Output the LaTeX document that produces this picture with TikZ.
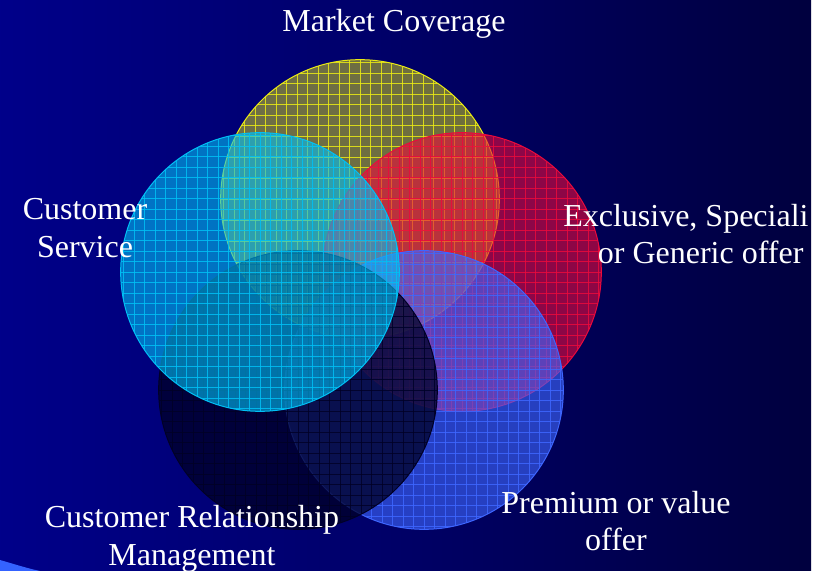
\documentclass[tikz,border=0pt]{standalone}
\usepackage{fontspec}
\setmainfont{Liberation Serif}
\usepackage{tikz}

\definecolor{bgleft}{RGB}{0,0,172}
\definecolor{bgmid}{RGB}{0,0,110}
\definecolor{bgright}{RGB}{0,0,48}
\definecolor{bgdark}{RGB}{0,0,20}
\definecolor{wedgeblue}{RGB}{52,98,255}
\definecolor{ylw}{RGB}{235,235,20}
\definecolor{crim}{RGB}{235,10,60}
\definecolor{royal}{RGB}{62,102,255}
\definecolor{navy}{RGB}{0,0,38}
\definecolor{aqua}{RGB}{0,192,245}

\pgfdeclarehorizontalshading{slidebg}{100bp}{color(0bp)=(bgleft); color(45bp)=(bgmid); color(84bp)=(bgright); color(95bp)=(bgdark); color(100bp)=(black)}

\tikzset{
  bubble/.style 2 args={circle, minimum size=209pt, inner sep=0pt,
    draw=#1, line width=0.75pt, fill=#1, fill opacity=#2,
    path picture={
      \foreach \k in {-14,...,14}{
        \draw[#1, draw opacity=0.85, line width=0.6pt, shift={(path picture bounding box.center)}]
          (\k*10.5,-150) -- (\k*10.5,150) (-150,\k*10.5) -- (150,\k*10.5);
      }
    }},
  lbl/.style={text=white, align=center, inner sep=0pt,
    font=\fontsize{24}{28}\selectfont}
}

\begin{document}
\begin{tikzpicture}[x=0.75pt,y=-0.75pt]
\useasboundingbox (0,0) rectangle (829,571);

% slide background
\fill[white] (811,0) rectangle (829,571);
\shade[shading=slidebg] (0,0) rectangle (811,571);
\fill[wedgeblue] (0,560) .. controls (14,564) and (26,568) .. (40,571) -- (0,571) -- cycle;

% the five circles, back to front
\node[bubble={ylw}{0.47}]  (cover)   at (360,199) {};
\node[bubble={crim}{0.6}]  (offer)   at (462,272) {};
\node[bubble={royal}{0.62}] (value)  at (424,390) {};
\node[bubble={navy}{0.74}] (crm)     at (298,390) {};
\node[bubble={aqua}{0.6}]  (service) at (260,272) {};

% labels
\node[lbl] (t-cover)   at (394,24)  {Market Coverage};
\node[lbl] (t-service) at (85,228)  {Customer\\Service};
\node[lbl, align=left, anchor=west] (t-offer) at (563,234) {Exclusive, Speciali\\\hspace*{26pt}or Generic offer};
\node[lbl] (t-value)   at (616,521) {Premium or value\\offer};
\node[lbl] (t-crm)     at (192,539) {Customer Relationship\\Management};

\end{tikzpicture}
\end{document}
